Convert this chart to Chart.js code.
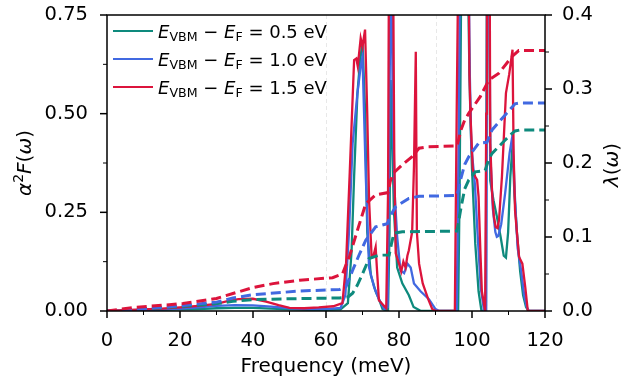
<!DOCTYPE html>
<html>
<head>
<meta charset="utf-8">
<script src="https://cdn.jsdelivr.net/npm/chart.js@4.4.1/dist/chart.umd.min.js"></script>
<style>
	html, body { margin: 0; padding: 0; background: #fff; }
	#wrap { position: relative; width: 624px; height: 379px; }
	#legend { position: absolute; left: 0; top: 0; font-family: "DejaVu Sans", sans-serif; font-size: 18px; color: #000; }
	.row { position: absolute; left: 113px; height: 28px; display: flex; align-items: center; white-space: nowrap; }
	.swatch { width: 40px; height: 2px; margin-right: 5px; }
	.row sub { font-size: 0.7em; vertical-align: baseline; position: relative; top: 0.25em; }
</style>
</head>
<body>
<div id="wrap">
	<canvas id="eph-chart" width="624" height="379"></canvas>
	<div id="legend"></div>
</div>
<script>
// doping levels (E_VBM - E_F, eV) and their colours
const dopingLabels = ["0.5", "1.0", "1.5"];
const colors = ["#0e8a7d", "#4169e1", "#dc143c"];

// alpha^2F(omega), left axis
const freq05 = [0, 5, 10, 15, 20, 25, 30, 35, 40, 45, 50, 55, 60, 64, 66, 67, 67.7, 68.6, 69.4, 70, 70.7, 71.3, 72.3, 73.6, 74.5, 75.5, 77, 77.4, 77.7, 78.1, 78.6, 79.5, 80.9, 82.7, 84, 86, 96.2, 96.6, 97.1, 98.8, 99.3, 99.6, 100, 100.9, 101.8, 102.6, 103.8, 104.1, 104.7, 105, 105.9, 106.8, 107.8, 108.7, 109.3, 109.9, 110.5, 111.1, 111.6, 112.3, 113.2, 114, 114.8, 115.5, 120];
const a2f05 = [0, 0.001, 0.002, 0.003, 0.004, 0.005, 0.007, 0.008, 0.008, 0.006, 0.004, 0.003, 0.003, 0.004, 0.02, 0.15, 0.34, 0.55, 0.64, 0.68, 0.51, 0.2, 0.09, 0.05, 0.03, 0.005, 0, 0.2, 0.585, 0.45, 0.255, 0.11, 0.07, 0.04, 0.01, 0, 0, 0.3, 0.9, 0.9, 0.6, 0.48, 0.36, 0.17, 0.05, 0, 0, 0.9, 0.9, 0.33, 0.28, 0.24, 0.19, 0.14, 0.135, 0.2, 0.34, 0.42, 0.3, 0.2, 0.1, 0.04, 0.01, 0, 0];

const freq10 = [0, 5, 10, 15, 20, 25, 30, 35, 40, 45, 50, 55, 60, 64, 65.3, 66.3, 67.3, 68.6, 69.5, 70, 70.9, 71.8, 73.2, 74.5, 76, 76.9, 77.3, 77.8, 78.3, 78.8, 79.5, 80.4, 81.4, 82.3, 83.2, 84.1, 85.9, 88.2, 90, 91, 95.8, 96.3, 96.8, 98.9, 99.4, 99.8, 100.8, 101.5, 102.4, 103.3, 103.9, 104.2, 104.7, 105, 105.7, 106.4, 106.8, 107.2, 108, 109.1, 110.3, 111.1, 111.7, 112.5, 113.5, 114.3, 115, 115.6, 120];
const a2f10 = [0, 0.002, 0.003, 0.004, 0.006, 0.009, 0.013, 0.015, 0.014, 0.011, 0.007, 0.005, 0.005, 0.008, 0.04, 0.2, 0.425, 0.55, 0.62, 0.645, 0.34, 0.11, 0.06, 0.03, 0.005, 0.01, 0.4, 1.0, 0.5, 0.3, 0.188, 0.103, 0.096, 0.12, 0.11, 0.07, 0.05, 0.03, 0.005, 0, 0, 0.4, 1.0, 1.0, 0.6, 0.42, 0.32, 0.2, 0.06, 0, 0, 1.0, 1.0, 0.4, 0.26, 0.2, 0.188, 0.19, 0.22, 0.3, 0.4, 0.446, 0.3, 0.16, 0.1, 0.04, 0.01, 0, 0];

const freq15 = [0, 5, 10, 15, 20, 25, 30, 33, 36, 40, 43.6, 47, 50, 54, 58, 62, 64.5, 65.5, 66.5, 67.7, 68.3, 68.7, 69.5, 70, 70.7, 71.3, 71.8, 72.5, 73, 73.6, 74, 74.5, 76.5, 77, 77.3, 78.3, 78.7, 79.1, 80, 80.6, 81.2, 81.8, 82.3, 82.7, 83.6, 84.1, 84.6, 84.9, 85.5, 86.5, 88, 89.1, 90, 95.3, 95.8, 96.5, 98.9, 99.3, 99.6, 100.2, 100.9, 101.4, 101.8, 102.3, 102.7, 103.6, 103.9, 104.1, 104.8, 105, 105.5, 106, 106.5, 107, 107.4, 108.2, 109.3, 110.2, 111.1, 111.4, 111.8, 112.3, 112.9, 113.8, 114.6, 115.3, 120];
const a2f15 = [0, 0.002, 0.004, 0.006, 0.009, 0.013, 0.018, 0.025, 0.03, 0.031, 0.024, 0.015, 0.008, 0.007, 0.009, 0.012, 0.02, 0.12, 0.35, 0.636, 0.64, 0.62, 0.691, 0.67, 0.713, 0.5, 0.281, 0.137, 0.14, 0.162, 0.1, 0.027, 0.007, 0.3, 1.0, 1.0, 0.4, 0.146, 0.12, 0.1, 0.125, 0.11, 0.14, 0.154, 0.2, 0.366, 0.657, 0.2, 0.12, 0.07, 0.03, 0.005, 0, 0, 0.5, 1.1, 1.1, 0.6, 0.493, 0.36, 0.34, 0.332, 0.29, 0.15, 0.05, 0, 0.5, 1.0, 1.0, 0.425, 0.3, 0.239, 0.213, 0.21, 0.23, 0.34, 0.552, 0.6, 0.662, 0.4, 0.254, 0.2, 0.137, 0.12, 0.06, 0, 0];

// cumulative lambda(omega), right axis
const lamFreq05 = [0, 10, 20, 30, 34.5, 40, 52.8, 63.7, 66, 67.3, 68.6, 70, 71.8, 74.5, 77.3, 77.9, 78.6, 80.9, 95.9, 97, 98, 99.1, 100.9, 103.6, 104.6, 105.5, 109.1, 110.5, 111.8, 113, 120];
const lam05 = [0, 0.003, 0.006, 0.01, 0.013, 0.0154, 0.0168, 0.0176, 0.019, 0.024, 0.035, 0.05, 0.071, 0.0754, 0.0757, 0.09, 0.105, 0.107, 0.108, 0.14, 0.165, 0.177, 0.188, 0.19, 0.205, 0.213, 0.231, 0.238, 0.2433, 0.2445, 0.2447];

const lamFreq10 = [0, 10, 20, 30, 34.5, 40, 52.8, 63.7, 65.5, 67.3, 69, 70.9, 73.6, 76.8, 77.8, 79.1, 82.7, 85.5, 95.9, 97, 98, 99.1, 101.8, 104.1, 105.5, 109.1, 111.8, 113, 120];
const lam10 = [0, 0.003, 0.007, 0.012, 0.0176, 0.022, 0.027, 0.029, 0.033, 0.055, 0.075, 0.0957, 0.1137, 0.118, 0.13, 0.141, 0.152, 0.155, 0.156, 0.18, 0.198, 0.2085, 0.2266, 0.228, 0.2447, 0.265, 0.28, 0.281, 0.281];

const lamFreq15 = [0, 7.2, 20.8, 30, 34.5, 40, 45.5, 52.8, 61.8, 64.5, 66.5, 68.6, 70.9, 73.6, 77, 77.6, 78.4, 81, 83.6, 85.5, 88, 95.9, 97, 98, 99.1, 102.3, 104.6, 107.3, 111, 112.8, 120];
const lam15 = [0, 0.0046, 0.01, 0.017, 0.0236, 0.0317, 0.037, 0.0416, 0.045, 0.05, 0.075, 0.109, 0.145, 0.157, 0.16, 0.175, 0.186, 0.198, 0.2085, 0.22, 0.222, 0.223, 0.245, 0.258, 0.267, 0.29, 0.312, 0.321, 0.344, 0.352, 0.352];

// ticks
const xTicks = [0, 20, 40, 60, 80, 100, 120];
const xMinor = [10, 30, 50, 70, 90, 110];
const leftTicks = [0, 0.25, 0.5, 0.75];
const leftMinor = [0.125, 0.375, 0.625];
const rightTicks = [0, 0.1, 0.2, 0.3, 0.4];
const rightMinor = [0.05, 0.15, 0.25, 0.35];
const guideFreqs = [60, 90];

const FONT = "DejaVu Sans";

document.addEventListener("DOMContentLoaded", function () {
	const toPoints = (xs, ys) => xs.map((x, i) => ({ x: x, y: ys[i] }));

	// legend (html so the subscripts work)
	const legend = document.getElementById("legend");
	dopingLabels.forEach((lbl, i) => {
		const row = document.createElement("div");
		row.className = "row";
		row.style.top = 17 + i * 28 + "px";
		row.innerHTML =
			'<span class="swatch" style="background:' + colors[i] + '"></span>' +
			"<span><i>E</i><sub>VBM</sub> \u2212 <i>E</i><sub>F</sub> = " + lbl + " eV</span>";
		legend.appendChild(row);
	});

	// draws a rotated label made of plain / italic / superscript pieces
	function drawMath(ctx, parts, cx, cy) {
		const fontOf = (p) => (p[1] === "sup" ? "14px '" + FONT + "'" : (p[1] === "it" ? "italic " : "") + "20px '" + FONT + "'");
		let total = 0;
		parts.forEach((p) => { ctx.font = fontOf(p); total += ctx.measureText(p[0]).width; });
		ctx.save();
		ctx.translate(cx, cy);
		ctx.rotate(-Math.PI / 2);
		ctx.fillStyle = "#000";
		ctx.textBaseline = "alphabetic";
		ctx.textAlign = "left";
		let pos = -total / 2;
		parts.forEach((p) => {
			ctx.font = fontOf(p);
			ctx.fillText(p[0], pos, p[1] === "sup" ? -8 : 0);
			pos += ctx.measureText(p[0]).width;
		});
		ctx.restore();
	}

	const axisDecor = {
		id: "axisDecor",
		beforeDatasetsDraw(chart) {
			const { ctx, chartArea: a } = chart;
			ctx.save();
			ctx.strokeStyle = "#e2e2e2";
			ctx.lineWidth = 0.8;
			ctx.setLineDash([4, 3]);
			guideFreqs.forEach((f) => {
				const px = Math.round(chart.scales.x.getPixelForValue(f)) + 0.5;
				ctx.beginPath();
				ctx.moveTo(px, a.top);
				ctx.lineTo(px, a.bottom);
				ctx.stroke();
			});
			ctx.restore();
		},
		afterDatasetsDraw(chart) {
			const { ctx, chartArea: a, scales } = chart;
			ctx.save();
			ctx.strokeStyle = "#000";
			ctx.lineWidth = 1.5;
			ctx.strokeRect(a.left, a.top, a.right - a.left, a.bottom - a.top);

			const line = (x1, y1, x2, y2, w) => {
				ctx.lineWidth = w;
				ctx.beginPath();
				ctx.moveTo(x1, y1);
				ctx.lineTo(x2, y2);
				ctx.stroke();
			};
			xTicks.forEach((v) => { const p = scales.x.getPixelForValue(v); line(p, a.bottom, p, a.bottom + 7, 1.5); });
			xMinor.forEach((v) => { const p = scales.x.getPixelForValue(v); line(p, a.bottom, p, a.bottom + 4, 1); });
			leftTicks.forEach((v) => { const p = scales.y.getPixelForValue(v); line(a.left, p, a.left - 7, p, 1.5); });
			leftMinor.forEach((v) => { const p = scales.y.getPixelForValue(v); line(a.left, p, a.left - 4, p, 1); });
			rightTicks.forEach((v) => { const p = scales.y1.getPixelForValue(v); line(a.right, p, a.right + 7, p, 1.5); });
			rightMinor.forEach((v) => { const p = scales.y1.getPixelForValue(v); line(a.right, p, a.right + 4, p, 1); });
			ctx.restore();

			// axis titles for the two y axes
			drawMath(ctx, [["\u03b1", "it"], ["2", "sup"], ["F", "it"], ["(", ""], ["\u03c9", "it"], [")", ""]], 31, 163);
			drawMath(ctx, [["\u03bb", "it"], ["(", ""], ["\u03c9", "it"], [")", ""]], 618, 165);
		},
	};

	const tickFont = { family: FONT, size: 19.5 };

	// keep chart.js from reserving extra room for half tick labels
	const noPad = (s) => { s.paddingTop = 0; s.paddingBottom = 0; s.paddingLeft = 0; s.paddingRight = 0; };

	const datasets = [];
	// dashed lambda curves first so they end up on top
	[[lamFreq15, lam15, 2], [lamFreq10, lam10, 1], [lamFreq05, lam05, 0]].forEach(([xs, ys, c]) => {
		datasets.push({
			label: "lambda " + dopingLabels[c],
			data: toPoints(xs, ys),
			yAxisID: "y1",
			borderColor: colors[c],
			borderWidth: 3,
			borderDash: [10, 5],
		});
	});
	[[freq15, a2f15, 2], [freq10, a2f10, 1], [freq05, a2f05, 0]].forEach(([xs, ys, c]) => {
		datasets.push({
			label: "a2F " + dopingLabels[c],
			data: toPoints(xs, ys),
			yAxisID: "y",
			borderColor: colors[c],
			borderWidth: 2.3,
		});
	});

	new Chart(document.getElementById("eph-chart"), {
		type: "line",
		data: { datasets: datasets },
		options: {
			responsive: false,
			animation: false,
			devicePixelRatio: 1,
			layout: { padding: { top: 15, left: 0, right: 0, bottom: 0 } },
			elements: { point: { radius: 0 }, line: { tension: 0, fill: false } },
			plugins: { legend: { display: false }, tooltip: { enabled: false } },
			scales: {
				x: {
					type: "linear",
					min: 0,
					max: 120,
					afterBuildTicks: (s) => { s.ticks = xTicks.map((v) => ({ value: v })); },
					afterFit: (s) => { s.height = 68; noPad(s); },
					ticks: { color: "#000", font: tickFont, padding: 18, maxRotation: 0, callback: (v) => String(v) },
					grid: { display: false, drawTicks: false },
					border: { display: false },
					title: { display: true, text: "Frequency (meV)", color: "#000", font: { family: FONT, size: 20 }, padding: 0 },
				},
				y: {
					position: "left",
					min: 0,
					max: 0.75,
					afterBuildTicks: (s) => { s.ticks = leftTicks.map((v) => ({ value: v })); },
					afterFit: (s) => { s.width = 107; noPad(s); },
					ticks: { color: "#000", font: tickFont, padding: 19, callback: (v) => v.toFixed(2) },
					grid: { display: false, drawTicks: false },
					border: { display: false },
				},
				y1: {
					position: "right",
					min: 0,
					max: 0.4,
					afterBuildTicks: (s) => { s.ticks = rightTicks.map((v) => ({ value: v })); },
					afterFit: (s) => { s.width = 79; noPad(s); },
					ticks: { color: "#000", font: tickFont, padding: 17, callback: (v) => v.toFixed(1) },
					grid: { display: false, drawTicks: false },
					border: { display: false },
				},
			},
		},
		plugins: [axisDecor],
	});
});
</script>
</body>
</html>
